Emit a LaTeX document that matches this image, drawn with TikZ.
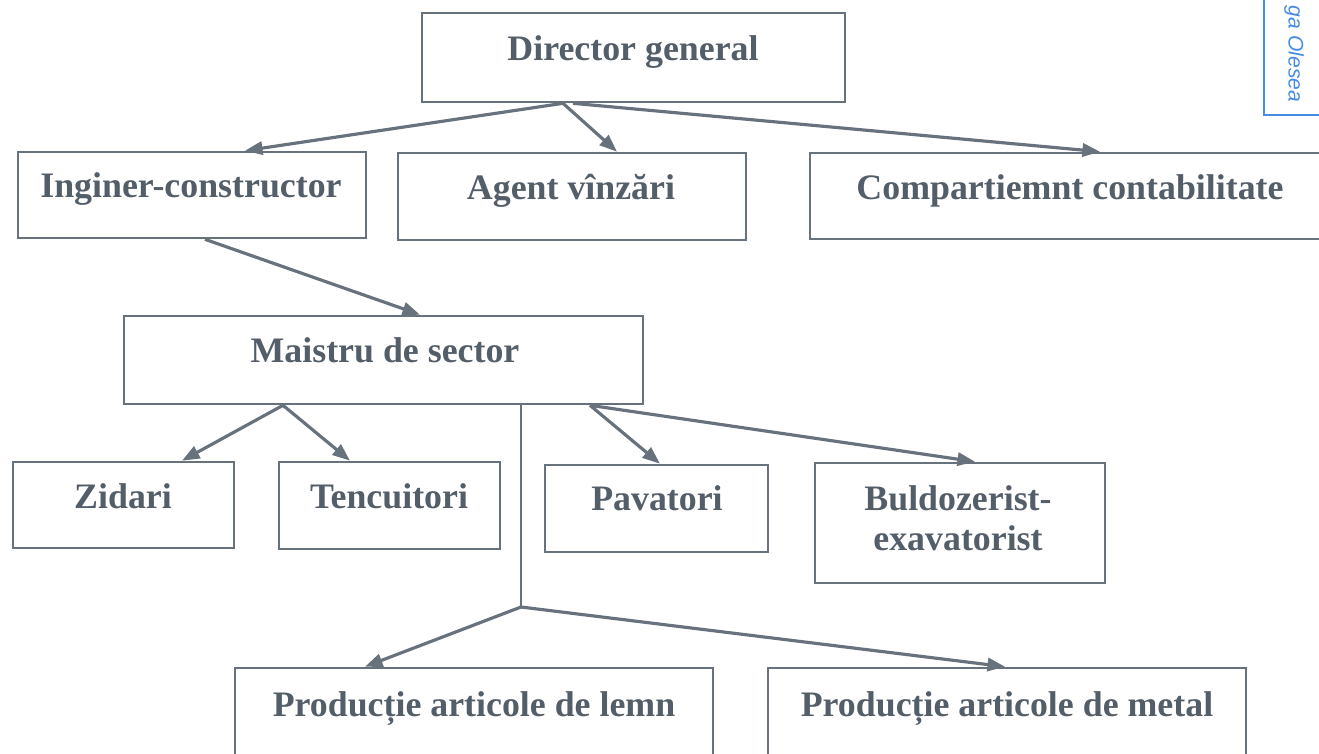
\documentclass[tikz,border=0pt]{standalone}
\usepackage{fontspec}
\setmainfont{Liberation Serif}
\newfontfamily\stampfont{Liberation Sans}
\usetikzlibrary{arrows.meta}
\definecolor{inkgray}{RGB}{104,114,124}
\definecolor{txtgray}{RGB}{84,94,104}
\definecolor{stampblue}{RGB}{70,140,225}
\tikzset{
  box/.style={draw=inkgray, line width=1.5pt, rectangle, inner sep=0pt},
  lbl/.style={font=\fontsize{20.4}{24}\selectfont\bfseries, text=txtgray, inner sep=0pt, anchor=base},
  conn/.style={draw=inkgray, line width=1.8pt, -{Triangle[length=10pt,width=7.5pt]}},
  plainconn/.style={draw=inkgray, line width=1.5pt},
}
\begin{document}
\begin{tikzpicture}[x=0.02cm,y=-0.02cm]
\useasboundingbox (0,0) rectangle (1319,754);
\begin{scope}
\clip (0,0) rectangle (1319,754);
% boxes
\node[box, minimum width=8.46cm, minimum height=1.78cm] (dg) at (633.5,57.5) {};
\node[box, minimum width=6.96cm, minimum height=1.72cm] (ing) at (192,195) {};
\node[box, minimum width=6.96cm, minimum height=1.74cm] (ag) at (572,196.5) {};
\node[box, minimum width=10.4cm, minimum height=1.72cm] (cc) at (1070,196) {};
\node[box, minimum width=10.38cm, minimum height=1.76cm] (ms) at (383.5,360) {};
\node[box, minimum width=4.42cm, minimum height=1.72cm] (zi) at (123.5,505) {};
\node[box, minimum width=4.42cm, minimum height=1.74cm] (te) at (389.5,505.5) {};
\node[box, minimum width=4.46cm, minimum height=1.74cm] (pa) at (656.5,508.5) {};
\node[box, minimum width=5.8cm, minimum height=2.4cm] (bu) at (960,523) {};
\node[box, minimum width=9.56cm, minimum height=2.0cm] (pl) at (474,718) {};
\node[box, minimum width=9.56cm, minimum height=2.0cm] (pm) at (1007,718) {};
% labels
\node[lbl] (tdg) at (633,60) {Director general};
\node[lbl] (ting) at (191,197) {Inginer-constructor};
\node[lbl] (tag) at (571,199) {Agent vînzări};
\node[lbl] (tcc) at (1070,199) {Compartiemnt contabilitate};
\node[lbl] (tms) at (385,362) {Maistru de sector};
\node[lbl] (tzi) at (123,508) {Zidari};
\node[lbl] (tte) at (389,508) {Tencuitori};
\node[lbl] (tpa) at (657,510) {Pavatori};
\node[lbl] (tbu1) at (958,510) {Buldozerist-};
\node[lbl] (tbu2) at (958,550) {exavatorist};
\node[lbl] (tpl) at (474,716) {Producție articole de lemn};
\node[lbl] (tpm) at (1007,716) {Producție articole de metal};
% junction
\coordinate (j) at (521,607);
% connectors
\draw[conn] (dg.south -| 563,0) -- (ing.north -| 245,0);
\draw[conn] (dg.south -| 563,0) -- (ag.north -| 617,0);
\draw[conn] (dg.south -| 573,0) -- (cc.north -| 1100,0);
\draw[conn] (ing.south -| 205,0) -- (ms.north -| 420,0);
\draw[conn] (ms.south -| 283,0) -- (zi.north -| 182,0);
\draw[conn] (ms.south -| 283,0) -- (te.north -| 350,0);
\draw[conn] (ms.south -| 590,0) -- (pa.north -| 660,0);
\draw[conn] (ms.south -| 590,0) -- (bu.north -| 975,0);
\draw[plainconn] (ms.south -| j) -- (j);
\draw[conn] (j) -- (pl.north -| 365,0);
\draw[conn] (j) -- (pm.north -| 1005,0);
% stamp
\draw[stampblue, line width=1pt] (1330,-5) -- (1264,-5) -- (1264,115) -- (1330,115);
\node[rotate=-90, text=stampblue, font=\stampfont\itshape\fontsize{12}{14}\selectfont, inner sep=0pt, anchor=center] (stamp) at (1294,54) {ga Olesea};
\end{scope}
\end{tikzpicture}
\end{document}
